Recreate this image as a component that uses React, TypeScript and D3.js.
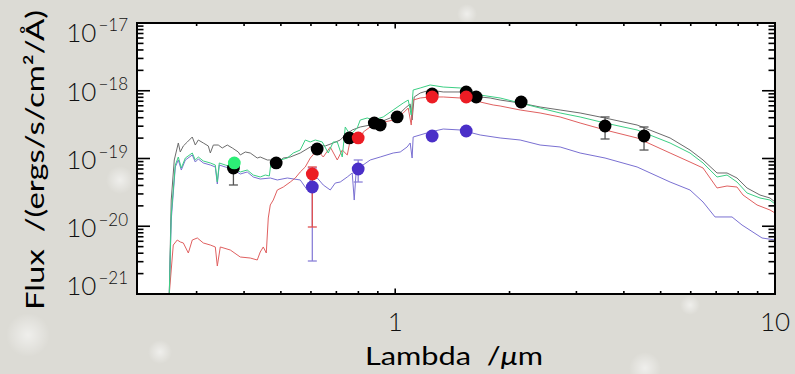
import React from "react";
import * as d3 from "d3";

const W = 795;
const H = 374;
const PLOT = { left: 137, right: 775, top: 23, bottom: 294 };

const X_DOMAIN = [0.209, 10];
const Y_DOMAIN = [1e-21, 1e-17];
const X_TICK_LABELS = [1, 10];
const Y_TICK_EXPONENTS = [-17, -18, -19, -20, -21];

// Model spectra: wavelength (micron) and log10 flux (erg/s/cm2/A)
const GRAY_LAMBDA = [0.2542, 0.2572, 0.262, 0.2685, 0.2717, 0.2768, 0.2836, 0.2922, 0.2976, 0.3031, 0.3124, 0.322, 0.326, 0.332, 0.3421, 0.3505, 0.3613, 0.3725, 0.3862, 0.3909, 0.403, 0.4153, 0.4333, 0.4412, 0.4605, 0.4775, 0.4893, 0.5074, 0.5293, 0.5623, 0.5976, 0.6235, 0.6544, 0.6869, 0.7166, 0.7387, 0.7706, 0.8089, 0.8595, 0.9131, 0.9701, 1.031, 1.063, 1.095, 1.108, 1.122, 1.164, 1.236, 1.338, 1.483, 1.575, 1.674, 1.778, 1.889, 2.133, 2.407, 2.718, 3.068, 3.569, 4.334, 5.293, 5.974, 6.464, 7.038, 7.477, 7.943, 8.441, 9.131, 9.701, 10.0];
const GRAY_LOGF = [-21.0, -19.613, -19.022, -18.771, -18.904, -18.815, -18.756, -18.683, -18.801, -18.727, -18.771, -18.815, -18.919, -18.801, -18.801, -18.845, -18.801, -18.845, -18.904, -18.948, -18.904, -18.919, -18.993, -18.978, -19.022, -19.022, -19.066, -18.993, -18.978, -18.919, -18.83, -18.801, -18.815, -18.771, -18.727, -18.653, -18.579, -18.535, -18.506, -18.461, -18.402, -18.328, -18.255, -18.196, -18.432, -18.092, -18.033, -17.989, -18.018, -18.018, -18.048, -18.092, -18.107, -18.137, -18.181, -18.24, -18.284, -18.328, -18.402, -18.506, -18.697, -18.875, -19.022, -19.214, -19.214, -19.288, -19.435, -19.539, -19.583, -19.642];

const GREEN_LAMBDA = [0.2542, 0.2572, 0.2636, 0.2685, 0.2734, 0.2802, 0.2922, 0.2976, 0.3031, 0.3124, 0.326, 0.336, 0.3401, 0.3442, 0.3569, 0.3725, 0.3909, 0.4078, 0.4229, 0.4412, 0.4549, 0.4662, 0.4718, 0.4983, 0.5199, 0.5391, 0.5623, 0.5797, 0.5976, 0.616, 0.6426, 0.6664, 0.6869, 0.7038, 0.7254, 0.7387, 0.7614, 0.7943, 0.8089, 0.844, 0.8752, 0.9298, 0.9879, 1.05, 1.082, 1.102, 1.115, 1.164, 1.236, 1.338, 1.483, 1.575, 1.674, 1.889, 2.133, 2.407, 2.718, 3.068, 3.569, 4.334, 5.293, 5.974, 6.464, 7.038, 7.477, 7.943, 8.441, 9.131, 9.701, 10.0];
const GREEN_LOGF = [-21.0, -19.834, -19.096, -18.978, -19.14, -18.993, -18.919, -19.022, -18.978, -19.037, -19.066, -19.096, -19.347, -19.066, -19.096, -19.125, -19.199, -19.17, -19.244, -19.273, -19.244, -19.258, -19.022, -19.022, -18.993, -18.919, -18.875, -18.727, -18.756, -18.727, -18.756, -18.919, -18.756, -18.756, -18.978, -18.535, -18.653, -18.55, -18.432, -18.402, -18.432, -18.387, -18.284, -18.181, -18.137, -18.358, -17.989, -17.959, -17.915, -17.945, -17.959, -18.004, -18.063, -18.107, -18.181, -18.255, -18.328, -18.387, -18.476, -18.579, -18.771, -18.919, -19.066, -19.273, -19.244, -19.347, -19.509, -19.583, -19.613, -19.672];

const RED_LAMBDA = [0.2542, 0.2572, 0.2604, 0.2668, 0.2717, 0.2768, 0.2853, 0.2922, 0.3013, 0.3124, 0.326, 0.336, 0.3401, 0.3463, 0.368, 0.3909, 0.4153, 0.4333, 0.4412, 0.4494, 0.4577, 0.4632, 0.4689, 0.4775, 0.4893, 0.5074, 0.5293, 0.5456, 0.5623, 0.5797, 0.5976, 0.6235, 0.6465, 0.6745, 0.7038, 0.7254, 0.7478, 0.7614, 0.7943, 0.8089, 0.8238, 0.8595, 0.9131, 0.9879, 1.05, 1.082, 1.102, 1.115, 1.164, 1.236, 1.338, 1.483, 1.674, 1.811, 1.889, 2.133, 2.407, 2.718, 3.068, 3.569, 4.334, 5.293, 5.974, 6.464, 7.038, 7.477, 7.943, 8.238, 8.968, 9.701, 10.0];
const RED_LOGF = [-21.0, -20.646, -20.277, -20.203, -20.232, -20.247, -20.395, -20.203, -20.173, -20.247, -20.277, -20.306, -20.587, -20.306, -20.351, -20.454, -20.469, -20.498, -20.38, -20.306, -20.395, -19.878, -19.686, -19.613, -19.465, -19.421, -19.347, -19.288, -19.199, -19.125, -18.993, -18.875, -18.978, -18.83, -19.022, -18.875, -18.948, -18.727, -18.624, -18.771, -18.609, -18.535, -18.476, -18.432, -18.328, -18.255, -18.506, -18.137, -18.107, -18.092, -18.092, -18.107, -18.166, -18.21, -18.225, -18.284, -18.328, -18.387, -18.476, -18.579, -18.697, -18.919, -19.052, -19.14, -19.435, -19.406, -19.421, -19.539, -19.686, -19.76, -19.804];

const BLUE_LAMBDA = [0.2542, 0.2572, 0.2636, 0.2685, 0.2734, 0.2802, 0.2922, 0.2976, 0.3031, 0.3124, 0.326, 0.336, 0.3401, 0.3442, 0.3569, 0.3725, 0.3909, 0.4078, 0.4229, 0.4412, 0.4689, 0.4893, 0.5199, 0.5623, 0.5868, 0.5976, 0.6235, 0.6465, 0.6745, 0.6953, 0.7166, 0.7478, 0.7706, 0.78, 0.7896, 0.8089, 0.8595, 0.9131, 0.9879, 1.031, 1.075, 1.095, 1.108, 1.115, 1.236, 1.338, 1.483, 1.674, 1.889, 2.133, 2.407, 2.718, 3.068, 3.569, 4.334, 5.293, 5.974, 6.464, 6.952, 7.706, 8.188, 9.243, 10.0];
const BLUE_LOGF = [-21.0, -19.908, -19.125, -19.022, -19.17, -19.022, -18.948, -19.052, -19.007, -19.066, -19.096, -19.125, -19.376, -19.096, -19.125, -19.155, -19.229, -19.199, -19.273, -19.303, -19.288, -19.317, -19.288, -19.317, -19.465, -19.317, -19.288, -19.391, -19.465, -19.362, -19.347, -19.273, -19.214, -19.613, -19.17, -19.125, -19.022, -18.978, -18.919, -18.904, -18.83, -18.771, -18.993, -18.683, -18.609, -18.565, -18.579, -18.653, -18.697, -18.727, -18.801, -18.83, -18.919, -18.993, -19.125, -19.347, -19.465, -19.642, -19.863, -19.863, -19.982, -20.173, -20.203];

// Photometry
const BLACK_LAMBDA = [0.375, 0.486, 0.623, 0.757, 0.881, 0.913, 1.012, 1.251, 1.538, 1.634, 2.146, 3.569, 4.52];
const BLACK_LOGF = [-19.14, -19.066, -18.86, -18.697, -18.476, -18.506, -18.387, -18.048, -18.018, -18.092, -18.166, -18.52, -18.668];
const BLACK_ERR_HI = [-19.05, null, null, null, null, null, null, null, null, null, null, -18.387, -18.535];
const BLACK_ERR_LO = [-19.391, null, null, null, null, null, null, null, null, null, null, -18.712, -18.875];

const RED_PT_LAMBDA = [0.605, 0.799, 1.251, 1.538];
const RED_PT_LOGF = [-19.229, -18.697, -18.092, -18.092];
const RED_ERR_HI = [-19.125, null, null, null];
const RED_ERR_LO = [-20.011, null, null, null];

const BLUE_PT_LAMBDA = [0.605, 0.799, 1.251, 1.538];
const BLUE_PT_LOGF = [-19.421, -19.155, -18.668, -18.594];
const BLUE_ERR_HI = [-19.14, -19.022, null, null];
const BLUE_ERR_LO = [-20.513, -19.347, null, null];

const GREEN_PT_LAMBDA = [0.377];
const GREEN_PT_LOGF = [-19.066];

const FONT = "Lato, 'DejaVu Sans', sans-serif";

export default function App() {
  const x = d3.scaleLog().domain(X_DOMAIN).range([PLOT.left, PLOT.right]);
  const y = d3.scaleLog().domain(Y_DOMAIN).range([PLOT.bottom, PLOT.top]);

  const path = (lam: number[], lf: number[]) =>
    d3
      .line<number>()
      .x((_, i) => x(lam[i]))
      .y((d) => y(Math.pow(10, d)))(lf) || "";

  const isMajor = (t: number) =>
    Math.abs(Math.log10(t) - Math.round(Math.log10(t))) < 1e-6;

  const xTicks = x.ticks();
  const yTicks = y.ticks();

  const errBars = (
    lam: number[],
    hi: (number | null)[],
    lo: (number | null)[],
    color: string,
    key: string
  ) =>
    lam.map((l, i) => {
      if (hi[i] == null || lo[i] == null) return null;
      const cx = x(l);
      const y1 = y(Math.pow(10, hi[i] as number));
      const y2 = y(Math.pow(10, lo[i] as number));
      return (
        <g key={key + i} stroke={color} strokeWidth={1.3}>
          <line x1={cx} x2={cx} y1={y1} y2={y2} />
          <line x1={cx - 4.5} x2={cx + 4.5} y1={y1} y2={y1} />
          <line x1={cx - 4.5} x2={cx + 4.5} y1={y2} y2={y2} />
        </g>
      );
    });

  const dots = (lam: number[], lf: number[], color: string, key: string) =>
    lam.map((l, i) => (
      <circle key={key + i} cx={x(l)} cy={y(Math.pow(10, lf[i]))} r={6.4} fill={color} />
    ));

  return (
    <svg
      width={W}
      height={H}
      style={{ position: "absolute", left: 0, top: 0 }}
      fontFamily={FONT}
    >
      <defs>
        <radialGradient id="blob">
          <stop offset="0%" stopColor="#ffffff" stopOpacity={0.55} />
          <stop offset="100%" stopColor="#ffffff" stopOpacity={0} />
        </radialGradient>
        <clipPath id="plotClip">
          <rect x={PLOT.left} y={PLOT.top} width={PLOT.right - PLOT.left} height={PLOT.bottom - PLOT.top} />
        </clipPath>
      </defs>
      <rect x={0} y={0} width={W} height={H} fill="#dcdbd5" />
      <circle cx={28} cy={335} r={22} fill="url(#blob)" />
      <circle cx={160} cy={352} r={12} fill="url(#blob)" />
      <circle cx={467} cy={14} r={10} fill="url(#blob)" />
      <circle cx={690} cy={305} r={10} fill="url(#blob)" />
      <circle cx={645} cy={368} r={16} fill="url(#blob)" />
      <circle cx={120} cy={180} r={14} fill="url(#blob)" />

      <rect
        x={PLOT.left}
        y={PLOT.top}
        width={PLOT.right - PLOT.left}
        height={PLOT.bottom - PLOT.top}
        fill="#ffffff"
      />

      <g clipPath="url(#plotClip)" fill="none" strokeWidth={1} strokeLinejoin="round">
        <path d={path(GRAY_LAMBDA, GRAY_LOGF)} stroke="#6c6c6c" />
        <path d={path(BLUE_LAMBDA, BLUE_LOGF)} stroke="#7a70d2" />
        <path d={path(RED_LAMBDA, RED_LOGF)} stroke="#e06060" />
        <path d={path(GREEN_LAMBDA, GREEN_LOGF)} stroke="#3ccf84" />
      </g>

      {errBars(BLACK_LAMBDA, BLACK_ERR_HI, BLACK_ERR_LO, "#555555", "be")}
      {errBars(BLUE_PT_LAMBDA, BLUE_ERR_HI, BLUE_ERR_LO, "#8a80d8", "ue")}
      {errBars(RED_PT_LAMBDA, RED_ERR_HI, RED_ERR_LO, "#e05050", "re")}
      {dots(BLACK_LAMBDA, BLACK_LOGF, "#000000", "bd")}
      {dots(RED_PT_LAMBDA, RED_PT_LOGF, "#ec1c24", "rd")}
      {dots(BLUE_PT_LAMBDA, BLUE_PT_LOGF, "#4a2fc8", "ud")}
      {dots(GREEN_PT_LAMBDA, GREEN_PT_LOGF, "#2cee76", "gd")}

      {/* frame */}
      <rect
        x={PLOT.left}
        y={PLOT.top}
        width={PLOT.right - PLOT.left}
        height={PLOT.bottom - PLOT.top}
        fill="none"
        stroke="#000"
        strokeWidth={2}
      />
      <g stroke="#000" strokeWidth={1.6}>
        {xTicks.map((t, i) => {
          const len = isMajor(t) ? 5.5 : 3;
          const px = x(t);
          return (
            <g key={"xt" + i}>
              <line x1={px} x2={px} y1={PLOT.bottom} y2={PLOT.bottom - len} />
              <line x1={px} x2={px} y1={PLOT.top} y2={PLOT.top + len} />
            </g>
          );
        })}
        {yTicks.map((t, i) => {
          const len = isMajor(t) ? 13 : 6.5;
          const py = y(t);
          return (
            <g key={"yt" + i}>
              <line x1={PLOT.left} x2={PLOT.left + len} y1={py} y2={py} />
              <line x1={PLOT.right} x2={PLOT.right - len} y1={py} y2={py} />
            </g>
          );
        })}
      </g>

      {/* tick labels */}
      <g fill="#111" fontSize={26} fontWeight={300}>
        {X_TICK_LABELS.map((t) => (
          <text key={"xl" + t} x={x(t)} y={331} textAnchor="middle">
            {String(t)}
          </text>
        ))}
        {Y_TICK_EXPONENTS.map((e) => {
          const py = Math.min(295, Math.max(42, y(Math.pow(10, e)) + 10.5));
          return (
            <text key={"yl" + e} x={128} y={py} textAnchor="end">
              10
              <tspan dx={2} dy={-11} fontSize={17}>
                {"\u2212" + String(Math.abs(e))}
              </tspan>
            </text>
          );
        })}
      </g>

      {/* axis titles */}
      <text
        x={454}
        y={365}
        textAnchor="middle"
        fontSize={25}
        fontWeight={400}
        fill="#000"
        textLength={178}
        lengthAdjust="spacingAndGlyphs"
        style={{ whiteSpace: "pre" }}
      >
        {"Lambda  /"}
        <tspan fontStyle="italic">μ</tspan>
        {"m"}
      </text>
      <text
        transform="translate(44,160) rotate(-90)"
        textAnchor="middle"
        fontSize={25}
        fontWeight={400}
        fill="#000"
        textLength={300}
        lengthAdjust="spacingAndGlyphs"
        style={{ whiteSpace: "pre" }}
      >
        {"Flux  /(ergs/s/cm²/Å)"}
      </text>
    </svg>
  );
}
